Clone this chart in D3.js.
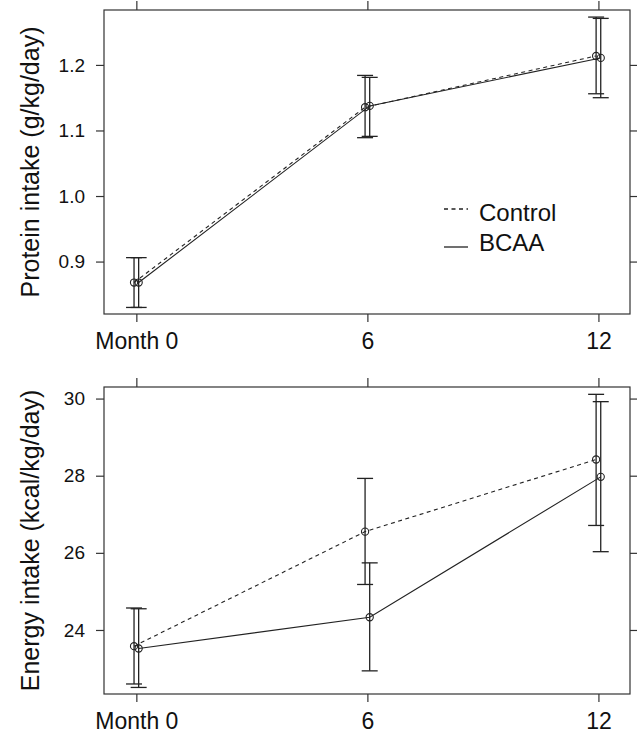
<!DOCTYPE html>
<html>
<head>
<meta charset="utf-8">
<script src="https://cdn.jsdelivr.net/npm/d3@7"></script>
<style>
body { margin: 0; background: #fff; }
svg { font-family: "Liberation Sans", Arial, Helvetica, sans-serif; }
.axis path, .axis line { stroke: #333; }
</style>
</head>
<body>
<svg id="chart"></svg>
<script>
// x categories
var months = [0, 6, 12];
var monthLabels = ["Month 0", "6", "12"];
var groups = ["Control", "BCAA"];

// protein intake (g/kg/day), mean and error bar ends
var proteinControl   = [0.868, 1.1355, 1.2137];
var proteinControlLo = [0.830, 1.089, 1.156];
var proteinControlHi = [0.906, 1.184, 1.273];
var proteinBCAA      = [0.868, 1.1375, 1.2107];
var proteinBCAALo    = [0.830, 1.091, 1.150];
var proteinBCAAHi    = [0.906, 1.181, 1.271];
var proteinTicks = [0.9, 1.0, 1.1, 1.2];

// energy intake (kcal/kg/day)
var energyControl   = [23.58, 26.55, 28.42];
var energyControlLo = [22.60, 25.18, 26.71];
var energyControlHi = [24.57, 27.93, 30.11];
var energyBCAA      = [23.52, 24.33, 27.97];
var energyBCAALo    = [22.51, 22.94, 26.03];
var energyBCAAHi    = [24.55, 25.74, 29.92];
var energyTicks = [24, 26, 28, 30];

var screen = {width: 637, height: 737};

var svg = d3.select("#chart")
    .attr("width", screen.width)
    .attr("height", screen.height);

var xScale = d3.scaleLinear().domain([-0.84, 12.82]).range([104, 630]);
var offset = {Control: -0.06, BCAA: 0.06};
var dash = {Control: "4,3.5", BCAA: null};

var makeRows = function(mean, lo, hi, group)
{
    return months.map(function(m, i) {
        return {month: m, mean: mean[i], lo: lo[i], hi: hi[i], group: group};
    });
}

var drawPanel = function(panel)
{
    var yScale = d3.scaleLinear().domain(panel.domain).range([panel.bottom, panel.top]);
    var g = svg.append("g");

    g.append("rect")
        .attr("x", xScale.range()[0])
        .attr("y", panel.top)
        .attr("width", xScale.range()[1] - xScale.range()[0])
        .attr("height", panel.bottom - panel.top)
        .attr("fill", "none")
        .attr("stroke", "#333")
        .attr("stroke-width", 1.2);

    // axes on all four sides, labels only left and bottom
    var left = g.append("g").attr("class", "axis")
        .attr("transform", "translate(" + xScale.range()[0] + ",0)")
        .call(d3.axisLeft(yScale).tickValues(panel.ticks).tickSize(8).tickPadding(11)
              .tickFormat(panel.fmt));
    var right = g.append("g").attr("class", "axis")
        .attr("transform", "translate(" + xScale.range()[1] + ",0)")
        .call(d3.axisRight(yScale).tickValues(panel.ticks).tickSize(8).tickFormat(""));
    var bottom = g.append("g").attr("class", "axis")
        .attr("transform", "translate(0," + panel.bottom + ")")
        .call(d3.axisBottom(xScale).tickValues(months).tickSize(8)
              .tickFormat(function(d, i) { return monthLabels[i]; }));
    var top = g.append("g").attr("class", "axis")
        .attr("transform", "translate(0," + panel.top + ")")
        .call(d3.axisTop(xScale).tickValues(months).tickSize(9).tickFormat(""));

    [left, right, bottom, top].forEach(function(a) {
        a.select(".domain").remove();
        a.selectAll("line").attr("stroke-width", 1.2);
    });
    left.selectAll("text").attr("font-size", 19).attr("fill", "#111");
    bottom.selectAll("text").attr("font-size", 23).attr("fill", "#111")
        .attr("y", 35).attr("dy", 0);

    g.append("text")
        .attr("transform", "translate(39," + ((panel.top + panel.bottom) / 2) + ") rotate(-90)")
        .attr("text-anchor", "middle")
        .attr("font-size", 25)
        .attr("fill", "#111")
        .text(panel.title);

    var line = d3.line()
        .x(function(d) { return xScale(d.month + offset[d.group]); })
        .y(function(d) { return yScale(d.mean); });

    panel.series.forEach(function(rows) {
        var grp = rows[0].group;
        g.append("path")
            .datum(rows)
            .attr("d", line)
            .attr("fill", "none")
            .attr("stroke", "#222")
            .attr("stroke-width", 1.1)
            .attr("stroke-dasharray", dash[grp]);

        var bars = g.selectAll(null).data(rows).enter().append("g")
            .attr("stroke", "#222")
            .attr("stroke-width", 1.3);
        bars.append("line")
            .attr("x1", function(d) { return xScale(d.month + offset[grp]); })
            .attr("x2", function(d) { return xScale(d.month + offset[grp]); })
            .attr("y1", function(d) { return yScale(d.lo); })
            .attr("y2", function(d) { return yScale(d.hi); });
        ["lo", "hi"].forEach(function(k) {
            bars.append("line")
                .attr("x1", function(d) { return xScale(d.month + offset[grp]) - 8; })
                .attr("x2", function(d) { return xScale(d.month + offset[grp]) + 8; })
                .attr("y1", function(d) { return yScale(d[k]); })
                .attr("y2", function(d) { return yScale(d[k]); });
        });

        g.selectAll(null).data(rows).enter().append("circle")
            .attr("cx", function(d) { return xScale(d.month + offset[grp]); })
            .attr("cy", function(d) { return yScale(d.mean); })
            .attr("r", 3.6)
            .attr("fill", "none")
            .attr("stroke", "#222")
            .attr("stroke-width", 1.1);
    });

    return g;
}

var proteinPanel = drawPanel({
    top: 10, bottom: 314,
    domain: [0.820, 1.2838],
    ticks: proteinTicks,
    fmt: d3.format(".1f"),
    title: "Protein intake (g/kg/day)",
    series: [makeRows(proteinControl, proteinControlLo, proteinControlHi, "Control"),
             makeRows(proteinBCAA, proteinBCAALo, proteinBCAAHi, "BCAA")]
});

drawPanel({
    top: 387, bottom: 694,
    domain: [22.34, 30.30],
    ticks: energyTicks,
    fmt: d3.format("d"),
    title: "Energy intake (kcal/kg/day)",
    series: [makeRows(energyControl, energyControlLo, energyControlHi, "Control"),
             makeRows(energyBCAA, energyBCAALo, energyBCAAHi, "BCAA")]
});

// legend in the protein panel
var legend = proteinPanel.selectAll(".legend")
    .data(groups)
    .enter()
    .append("g")
    .attr("class", "legend")
    .attr("transform", function(d, i) { return "translate(444," + (213 + i * 30) + ")"; });
legend.append("line")
    .attr("x1", 0).attr("x2", 24)
    .attr("y1", function(d, i) { return i == 0 ? -4 : 4; })
    .attr("y2", function(d, i) { return i == 0 ? -4 : 4; })
    .attr("stroke", "#222")
    .attr("stroke-width", 1.3)
    .attr("stroke-dasharray", function(d) { return dash[d]; });
legend.append("text")
    .attr("x", 35)
    .attr("dy", "0.35em")
    .attr("font-size", 24)
    .attr("fill", "#111")
    .text(function(d) { return d; });
</script>
</body>
</html>
